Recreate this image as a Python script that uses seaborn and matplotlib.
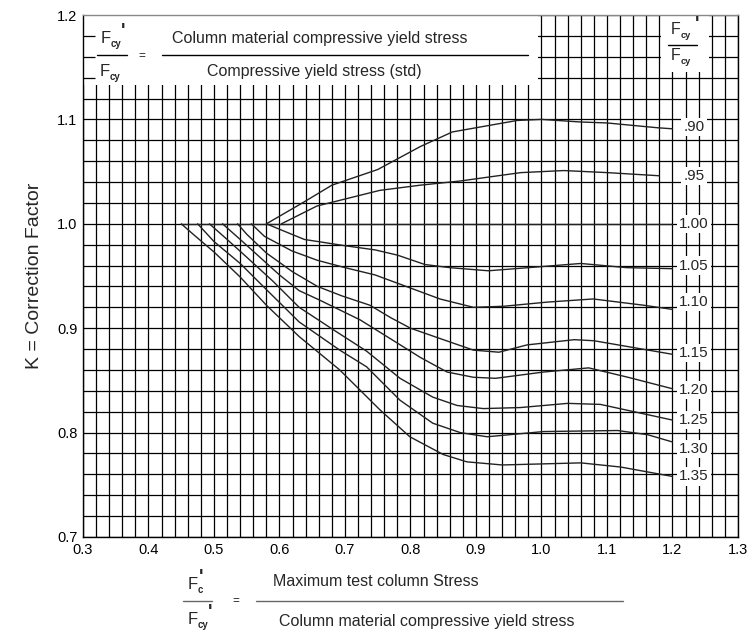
import numpy as np
import pandas as pd
import seaborn as sns
import matplotlib.pyplot as plt
from matplotlib.patches import Rectangle
from matplotlib.lines import Line2D

# ---------------- data ----------------
ratio_labels = [".90", ".95", "1.00", "1.05", "1.10", "1.15", "1.20", "1.25", "1.30", "1.35"]

x_090 = [0.58, 0.635, 0.68, 0.75, 0.815, 0.864, 0.963, 1.0, 1.06, 1.10, 1.177, 1.20]
y_090 = [1.0, 1.020, 1.037, 1.052, 1.074, 1.088, 1.099, 1.100, 1.0975, 1.0966, 1.092, 1.091]

x_095 = [0.603, 0.657, 0.753, 0.815, 0.876, 0.968, 1.034, 1.101, 1.18]
y_095 = [1.0, 1.017, 1.032, 1.037, 1.041, 1.049, 1.051, 1.049, 1.046]

x_100 = [0.45, 1.20]
y_100 = [1.0, 1.0]

x_105 = [0.58, 0.603, 0.638, 0.70, 0.746, 0.78, 0.822, 0.86, 0.919, 0.98, 1.06, 1.13, 1.20]
y_105 = [1.0, 0.994, 0.985, 0.979, 0.975, 0.970, 0.961, 0.958, 0.955, 0.958, 0.962, 0.958, 0.957]

x_110 = [0.557, 0.577, 0.619, 0.658, 0.70, 0.746, 0.802, 0.845, 0.896, 0.942, 1.009, 1.079, 1.156, 1.20]
y_110 = [1.0, 0.988, 0.974, 0.965, 0.958, 0.951, 0.938, 0.928, 0.920, 0.921, 0.925, 0.928, 0.922, 0.918]

x_115 = [0.536, 0.55, 0.58, 0.62, 0.658, 0.695, 0.738, 0.77, 0.80, 0.841, 0.896, 0.935, 0.978, 1.05, 1.08, 1.20]
y_115 = [1.0, 0.990, 0.972, 0.954, 0.940, 0.931, 0.922, 0.910, 0.900, 0.891, 0.879, 0.877, 0.884, 0.889, 0.888, 0.875]

x_120 = [0.513, 0.54, 0.57, 0.60, 0.63, 0.661, 0.723, 0.764, 0.815, 0.856, 0.896, 0.93, 1.003, 1.072, 1.132, 1.20]
y_120 = [1.0, 0.985, 0.968, 0.951, 0.936, 0.927, 0.908, 0.892, 0.872, 0.858, 0.853, 0.852, 0.858, 0.862, 0.853, 0.842]

x_125 = [0.493, 0.52, 0.55, 0.59, 0.63, 0.681, 0.733, 0.784, 0.834, 0.871, 0.911, 0.968, 1.04, 1.09, 1.20]
y_125 = [1.0, 0.985, 0.968, 0.945, 0.920, 0.899, 0.878, 0.852, 0.834, 0.826, 0.823, 0.824, 0.828, 0.827, 0.812]

x_130 = [0.475, 0.50, 0.54, 0.58, 0.63, 0.692, 0.733, 0.784, 0.834, 0.876, 0.917, 1.003, 1.116, 1.162, 1.20]
y_130 = [1.0, 0.983, 0.962, 0.937, 0.906, 0.879, 0.863, 0.831, 0.809, 0.800, 0.796, 0.801, 0.802, 0.798, 0.791]

x_135 = [0.45, 0.47, 0.50, 0.54, 0.58, 0.63, 0.692, 0.753, 0.799, 0.85, 0.886, 0.94, 1.06, 1.121, 1.20]
y_135 = [1.0, 0.989, 0.973, 0.949, 0.922, 0.892, 0.860, 0.822, 0.796, 0.779, 0.772, 0.769, 0.771, 0.767, 0.758]

label_y = [1.093, 1.046, 1.0, 0.960, 0.925, 0.876, 0.841, 0.812, 0.784, 0.758]

x_ticks = [0.3, 0.4, 0.5, 0.6, 0.7, 0.8, 0.9, 1.0, 1.1, 1.2, 1.3]
y_ticks = [0.7, 0.8, 0.9, 1.0, 1.1, 1.2]

xs = [x_090, x_095, x_100, x_105, x_110, x_115, x_120, x_125, x_130, x_135]
ys = [y_090, y_095, y_100, y_105, y_110, y_115, y_120, y_125, y_130, y_135]

rows = []
for lab, xx, yy in zip(ratio_labels, xs, ys):
    for a, b in zip(xx, yy):
        rows.append({"ratio": lab, "x": a, "K": b})
df = pd.DataFrame(rows)

# ---------------- style ----------------
sns.set_theme(style="white")
plt.rcParams["font.family"] = ["Liberation Sans", "DejaVu Sans"]

W, H = 755, 640
fig = plt.figure(figsize=(W / 100, H / 100), dpi=100)
ax = fig.add_axes([83 / W, 1 - 537 / H, (738 - 83) / W, (537 - 15) / H])

ax.set_xlim(0.3, 1.3)
ax.set_ylim(0.7, 1.2)
ax.set_xticks(x_ticks)
ax.set_yticks(y_ticks)
ax.set_xticklabels([f"{v:.1f}" for v in x_ticks], fontsize=10.5)
ax.set_yticklabels([f"{v:.1f}" for v in y_ticks], fontsize=10.5)
ax.set_xticks(np.arange(0.3, 1.3001, 0.02), minor=True)
ax.set_yticks(np.arange(0.7, 1.2001, 0.02), minor=True)
ax.grid(which="both", color="black", linewidth=0.9)
ax.set_axisbelow(True)
ax.tick_params(which="both", length=0, pad=4, colors="black")
for s in ax.spines.values():
    s.set_color("black")
    s.set_linewidth(1.0)
ax.spines["top"].set_color("#888888")

sns.lineplot(data=df, x="x", y="K", hue="ratio", units="ratio", estimator=None,
             sort=False, palette=["#222222"] * len(ratio_labels), legend=False,
             linewidth=1.0, ax=ax, zorder=2)

ax.set_xlabel("")
ax.set_ylabel("K = Correction Factor", fontsize=14, labelpad=10)

# white boxes over grid
ax.add_patch(Rectangle((0.3, 1.133), 0.695, 0.067, facecolor="white",
                       edgecolor="none", zorder=1))
ax.add_patch(Rectangle((1.182, 1.145), 0.074, 0.055, facecolor="white",
                       edgecolor="none", zorder=1))
ax.hlines([1.14, 1.16, 1.18], 0.3, 0.318, color="black", linewidth=0.9, zorder=3)

# curve labels
for lab, yv in zip(ratio_labels, label_y):
    ax.text(1.233, yv, lab, fontsize=11, ha="center", va="center", zorder=4,
            bbox=dict(facecolor="white", edgecolor="none", pad=1.5))


def px(x, y):
    return x / W, 1 - y / H


def fsym(x, y, sub, prime=False, size=12, primex=None, primedy=7):
    fig.text(*px(x, y), "F", fontsize=size, ha="left", va="baseline")
    fig.text(*px(x + 10, y + 4), sub, fontsize=size * 0.58, ha="left", va="baseline",
             fontweight="bold")
    if prime:
        pxx = primex if primex is not None else x + 21
        fig.text(*px(pxx, y - primedy), "'", fontsize=size * 1.15, ha="left",
                 va="baseline", fontweight="bold")


def hline(x0, x1, y, color="black", lw=1.0):
    fig.add_artist(Line2D([x0 / W, x1 / W], [1 - y / H, 1 - y / H],
                          color=color, linewidth=lw))


# top-left formula
fsym(101, 43, "cy", prime=True, primex=121)
hline(97, 127, 55)
fsym(100, 76, "cy")
fig.text(*px(142, 59), "=", fontsize=8.5, ha="center", va="baseline")
hline(162, 528, 55)
fig.text(*px(320, 43), "Column material compressive yield stress", fontsize=11.5,
         ha="center", va="baseline")
fig.text(*px(314, 76), "Compressive yield stress (std)", fontsize=11.5,
         ha="center", va="baseline")

# header on right
fsym(671, 34, "cy", prime=True, size=11.5, primex=695, primedy=5)
hline(668, 697, 45)
fsym(671, 60, "cy", size=11.5)

# bottom formula
fsym(188, 589, "c", prime=True, primex=199)
hline(183, 212, 601, color="#666666")
fsym(188, 624, "cy", prime=True, primex=208)
fig.text(*px(236, 604), "=", fontsize=8.5, ha="center", va="baseline")
hline(256, 623, 601, color="#666666")
fig.text(*px(376, 586), "Maximum test column Stress", fontsize=11.5,
         ha="center", va="baseline")
fig.text(*px(427, 626), "Column material compressive yield stress", fontsize=11.5,
         ha="center", va="baseline")

fig.savefig("out.png", dpi=100, facecolor="white")
